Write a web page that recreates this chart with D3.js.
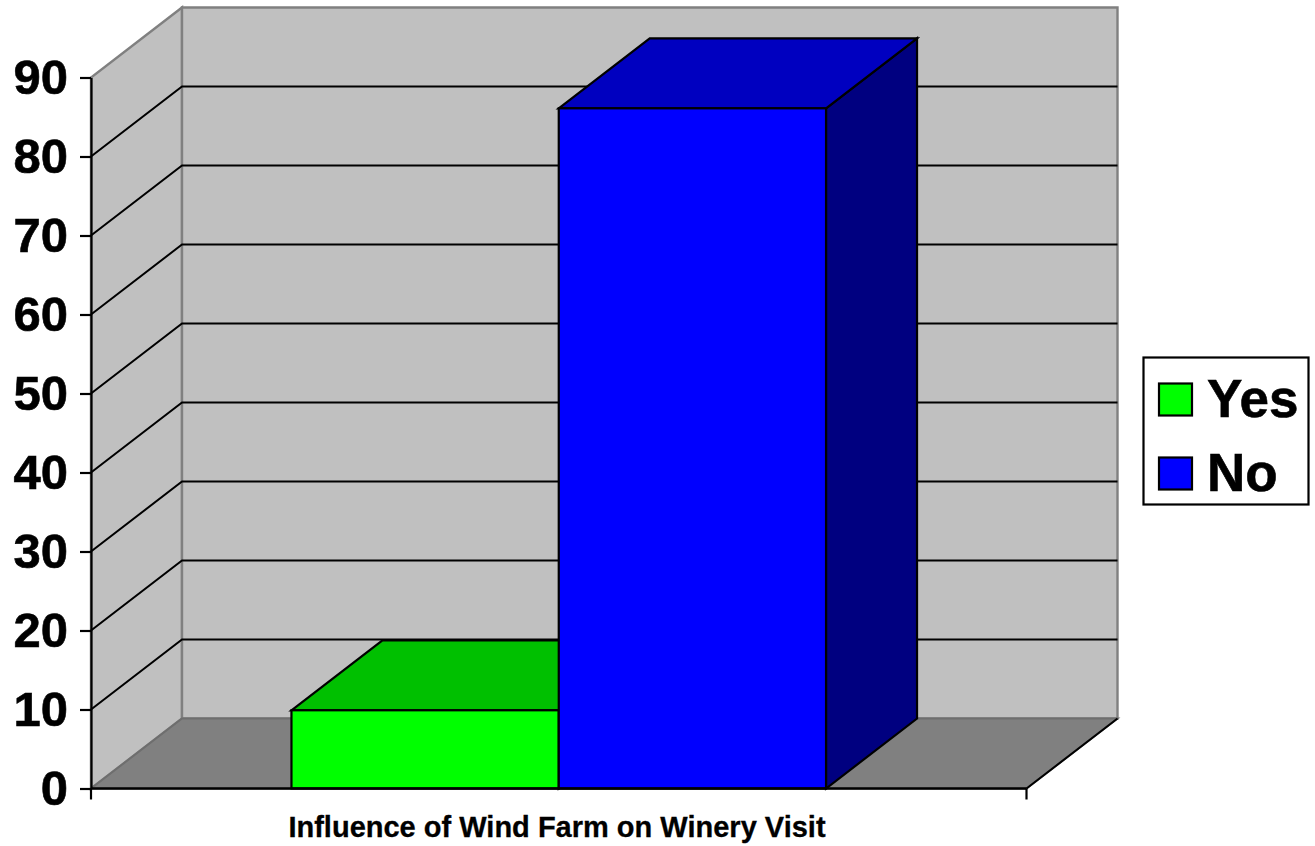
<!DOCTYPE html>
<html>
<head>
<meta charset="utf-8">
<script src="https://cdn.jsdelivr.net/npm/d3@7"></script>
<style>
  html, body { margin: 0; padding: 0; background: #fff; }
  svg { display: block; }
  text { font-family: "Liberation Sans", Arial, sans-serif; font-weight: bold; fill: #000; stroke: #000; stroke-width: 0.6px; }
</style>
</head>
<body>
<svg id="chart"></svg>
<script>
const categories = ['Yes', 'No'];
const values = [9.9, 86.1];
const yTicks = [0, 10, 20, 30, 40, 50, 60, 70, 80, 90];
const axisTitle = 'Influence of Wind Farm on Winery Visit';
const frontColors = ['#00ff00', '#0000ff'];
const topColors = ['#00c000', '#0000c0'];
const sideColors = ['#008000', '#000080'];

const width = 1315;
const height = 846;
const depthX = 91;   // how far the back wall is shifted from the front plane
const depthY = -70;

const svg = d3.select('#chart').attr('width', width).attr('height', height);

const xScale = d3.scaleBand().domain(categories).range([91, 1026.5])
    .paddingInner(0).paddingOuter(0.75);
const yScale = d3.scaleLinear().domain([0, 90]).range([788.5, 77.5]);

const poly = pts => pts.map(p => p.join(',')).join(' ');

const x0 = xScale.range()[0];
const x1 = xScale.range()[1];
const yBase = yScale(0);
const yTop = yScale(90);

// walls and floor
svg.append('polygon')
    .attr('points', poly([[x0, yBase], [x0 + depthX, yBase + depthY], [x0 + depthX, yTop + depthY], [x0, yTop]]))
    .attr('fill', '#c0c0c0').attr('stroke', '#808080').attr('stroke-width', 2.4);
svg.append('polygon')
    .attr('points', poly([[x0 + depthX, yBase + depthY], [x1 + depthX, yBase + depthY], [x1 + depthX, yTop + depthY], [x0 + depthX, yTop + depthY]]))
    .attr('fill', '#c0c0c0').attr('stroke', '#808080').attr('stroke-width', 2.4);
svg.append('polygon')
    .attr('points', poly([[x0, yBase], [x1, yBase], [x1 + depthX, yBase + depthY], [x0 + depthX, yBase + depthY]]))
    .attr('fill', '#808080').attr('stroke', '#6e6e6e').attr('stroke-width', 2);

// gridlines run along the side wall and across the back wall
const gridTicks = yTicks.filter(t => t > 0 && t < 90);
svg.append('g').selectAll('path')
    .data(gridTicks)
    .enter()
    .append('path')
    .attr('d', d => `M${x0},${yScale(d)}L${x0 + depthX},${yScale(d) + depthY}L${x1 + depthX},${yScale(d) + depthY}`)
    .attr('fill', 'none')
    .attr('stroke', '#000')
    .attr('stroke-width', 2);

// right floor edge
svg.append('line')
    .attr('x1', x1).attr('y1', yBase)
    .attr('x2', x1 + depthX).attr('y2', yBase + depthY)
    .attr('stroke', '#000').attr('stroke-width', 2);

// bars
categories.forEach((cat, i) => {
    const left = xScale(cat);
    const right = left + xScale.bandwidth();
    const top = yScale(values[i]);
    const g = svg.append('g')
        .attr('stroke', '#000').attr('stroke-width', 2.2).attr('stroke-linejoin', 'miter');
    g.append('polygon')
        .attr('points', poly([[right, top], [right + depthX, top + depthY], [right + depthX, yBase + depthY], [right, yBase]]))
        .attr('fill', sideColors[i]);
    g.append('polygon')
        .attr('points', poly([[left, top], [left + depthX, top + depthY], [right + depthX, top + depthY], [right, top]]))
        .attr('fill', topColors[i]);
    g.append('rect')
        .attr('x', left).attr('y', top)
        .attr('width', right - left).attr('height', yBase - top)
        .attr('fill', frontColors[i]);
});

// axes
const yAxis = svg.append('g')
    .attr('transform', `translate(${x0},0)`)
    .call(d3.axisLeft(yScale).tickValues(yTicks).tickSize(11).tickPadding(12).tickSizeOuter(0));
yAxis.selectAll('text').style('font-size', '49px');
yAxis.selectAll('line, path').attr('stroke', '#000').attr('stroke-width', 2.2);

const xAxis = svg.append('g')
    .attr('transform', `translate(0,${yBase})`);
xAxis.append('line')
    .attr('x1', x0).attr('x2', x1)
    .attr('stroke', '#000').attr('stroke-width', 2.6);
xAxis.selectAll('.edge')
    .data([x0, x1])
    .enter()
    .append('line')
    .attr('class', 'edge')
    .attr('x1', d => d).attr('x2', d => d)
    .attr('y1', 0).attr('y2', 11)
    .attr('stroke', '#000').attr('stroke-width', 2.2);

svg.append('text')
    .attr('x', 557)
    .attr('y', 837)
    .attr('text-anchor', 'middle')
    .style('font-size', '29px')
    .style('stroke-width', '0.3px')
    .text(axisTitle);

// legend
svg.append('rect')
    .attr('x', 1143.5).attr('y', 357.5)
    .attr('width', 165).attr('height', 147)
    .attr('fill', '#fff').attr('stroke', '#000').attr('stroke-width', 2.2);

const legendRows = svg.append('g').selectAll('g')
    .data(categories)
    .enter()
    .append('g')
    .attr('transform', (d, i) => `translate(1159,${383.5 + i * 74})`);
legendRows.append('rect')
    .attr('width', 33).attr('height', 32)
    .attr('fill', (d, i) => frontColors[i])
    .attr('stroke', '#000').attr('stroke-width', 2.2);
legendRows.append('text')
    .attr('x', 48).attr('y', 33)
    .style('font-size', '53px')
    .text(d => d);
</script>
</body>
</html>
